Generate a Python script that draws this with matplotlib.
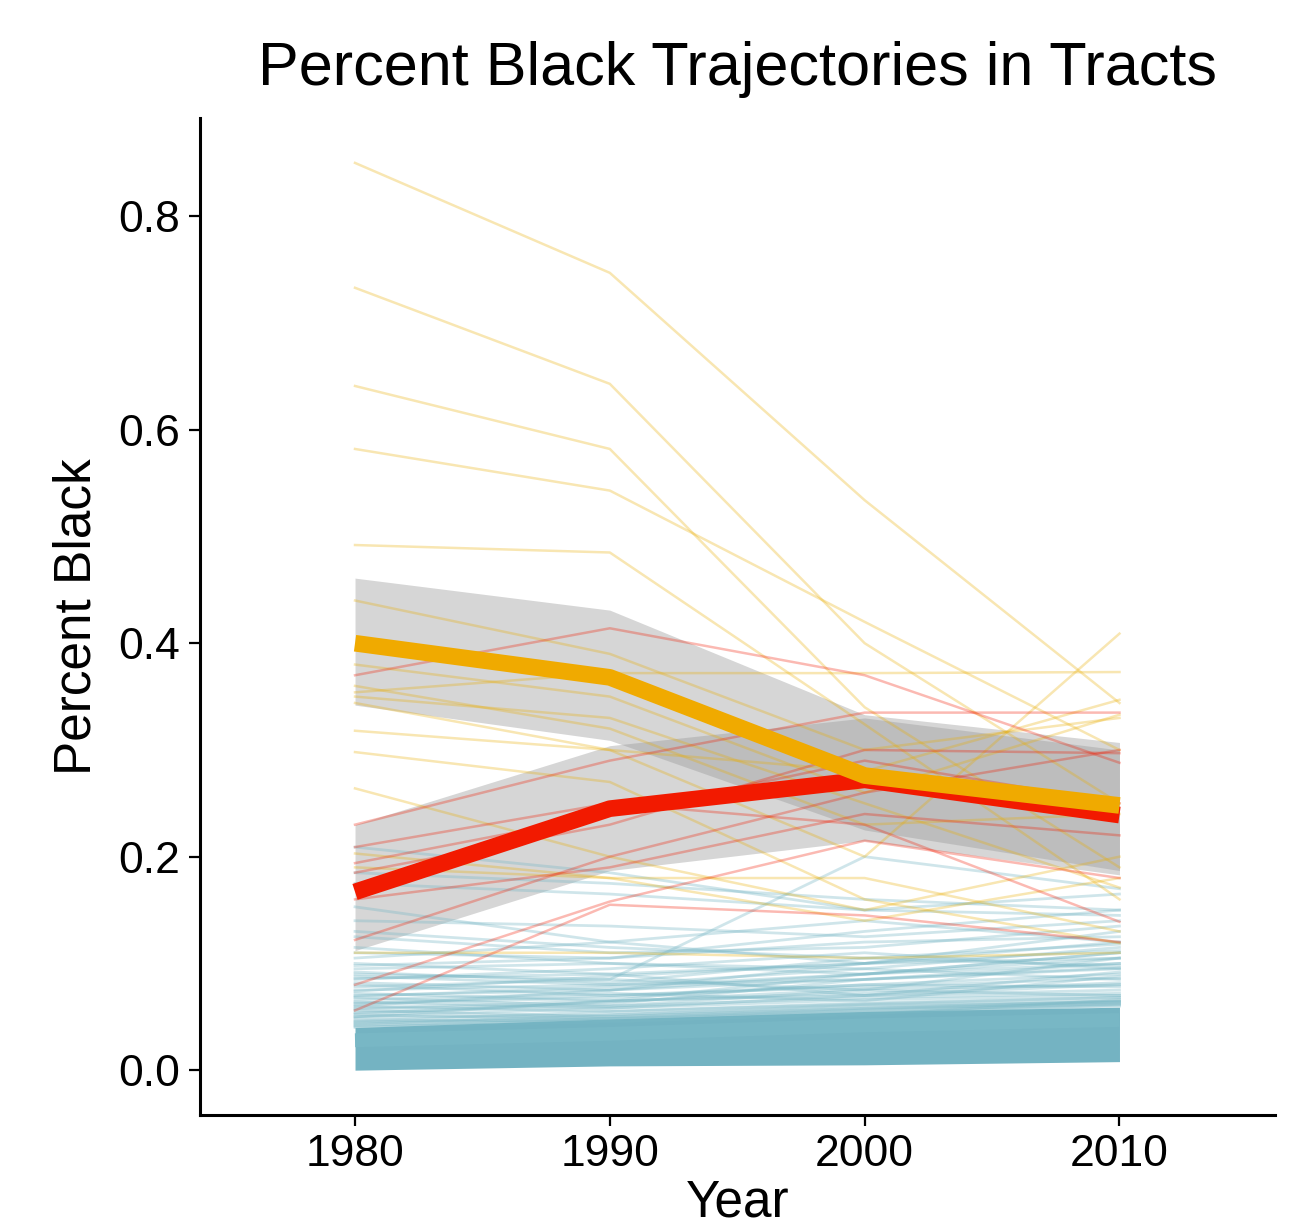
import numpy as np
import matplotlib
matplotlib.use('Agg')
from matplotlib import pyplot as plt

plt.rcParams['font.family'] = ['Liberation Sans', 'DejaVu Sans']

# data
years = [1980, 1990, 2000, 2010]

orange_lines = [
    [0.850, 0.747, 0.534, 0.344],
    [0.733, 0.643, 0.400, 0.250],
    [0.641, 0.582, 0.340, 0.190],
    [0.582, 0.543, 0.420, 0.300],
    [0.492, 0.485, 0.324, 0.160],
    [0.440, 0.390, 0.300, 0.330],
    [0.354, 0.372, 0.372, 0.373],
    [0.350, 0.330, 0.250, 0.171],
    [0.344, 0.300, 0.200, 0.409],
    [0.318, 0.300, 0.280, 0.347],
    [0.298, 0.270, 0.160, 0.119],
    [0.264, 0.200, 0.150, 0.200],
    [0.203, 0.180, 0.180, 0.130],
    [0.110, 0.110, 0.105, 0.110],
    [0.360, 0.320, 0.230, 0.240],
    [0.190, 0.180, 0.140, 0.180],
    [0.380, 0.350, 0.260, 0.333],
]

red_lines = [
    [0.370, 0.414, 0.370, 0.288],
    [0.230, 0.290, 0.335, 0.335],
    [0.122, 0.200, 0.260, 0.300],
    [0.056, 0.155, 0.145, 0.120],
    [0.080, 0.158, 0.215, 0.180],
    [0.194, 0.240, 0.290, 0.250],
    [0.209, 0.250, 0.230, 0.139],
    [0.185, 0.230, 0.300, 0.297],
    [0.160, 0.190, 0.240, 0.220],
]

teal_lines = [
    [0.209, 0.185, 0.150, 0.145],
    [0.185, 0.175, 0.160, 0.150],
    [0.175, 0.165, 0.150, 0.165],
    [0.153, 0.120, 0.100, 0.105],
    [0.140, 0.135, 0.125, 0.140],
    [0.125, 0.110, 0.115, 0.135],
    [0.110, 0.105, 0.120, 0.125],
    [0.100, 0.090, 0.100, 0.130],
    [0.095, 0.100, 0.095, 0.115],
    [0.090, 0.085, 0.200, 0.170],
    [0.088, 0.080, 0.085, 0.100],
    [0.085, 0.095, 0.110, 0.095],
    [0.082, 0.075, 0.090, 0.110],
    [0.080, 0.070, 0.080, 0.090],
    [0.078, 0.085, 0.075, 0.105],
    [0.075, 0.080, 0.095, 0.085],
    [0.072, 0.065, 0.070, 0.080],
    [0.070, 0.075, 0.085, 0.095],
    [0.068, 0.060, 0.075, 0.070],
    [0.066, 0.072, 0.065, 0.088],
    [0.064, 0.058, 0.070, 0.075],
    [0.062, 0.068, 0.080, 0.078],
    [0.060, 0.055, 0.062, 0.068],
    [0.058, 0.065, 0.072, 0.082],
    [0.056, 0.050, 0.058, 0.065],
    [0.054, 0.060, 0.068, 0.072],
    [0.052, 0.048, 0.055, 0.062],
    [0.050, 0.058, 0.066, 0.070],
    [0.049, 0.052, 0.060, 0.064],
    [0.047, 0.046, 0.052, 0.066],
    [0.046, 0.055, 0.063, 0.068],
    [0.045, 0.050, 0.058, 0.062],
    [0.044, 0.048, 0.054, 0.060],
    [0.043, 0.052, 0.061, 0.065],
    [0.042, 0.047, 0.056, 0.063],
    [0.041, 0.045, 0.053, 0.061],
    [0.040, 0.049, 0.057, 0.064],
    [0.105, 0.120, 0.140, 0.120],
    [0.115, 0.100, 0.090, 0.110],
    [0.130, 0.115, 0.105, 0.098],
    [0.060, 0.075, 0.100, 0.120],
    [0.050, 0.065, 0.090, 0.105],
    [0.098, 0.105, 0.130, 0.150],
    [0.092, 0.082, 0.105, 0.118],
    [0.086, 0.090, 0.070, 0.092],
    [0.074, 0.088, 0.100, 0.112],
    [0.069, 0.078, 0.090, 0.100],
    [0.063, 0.070, 0.078, 0.086],
    [0.057, 0.062, 0.085, 0.096],
    [0.053, 0.064, 0.076, 0.080],
]

# dense mass of low tracts
teal_band_lo = [0.000, 0.004, 0.005, 0.008]
teal_band_hi = [0.040, 0.048, 0.055, 0.059]
teal_mean = [0.028, 0.034, 0.042, 0.047]

red_mean = [0.167, 0.245, 0.272, 0.239]
red_lo = [0.112, 0.187, 0.215, 0.183]
red_hi = [0.230, 0.304, 0.330, 0.300]

orange_mean = [0.400, 0.368, 0.276, 0.248]
orange_lo = [0.342, 0.309, 0.225, 0.187]
orange_hi = [0.461, 0.431, 0.333, 0.307]

TEAL = '#78B7C5'
ORANGE = '#E9AD00'
RED = '#F21A00'

fig = plt.figure(figsize=(13.13, 12.3), dpi=100)
ax = fig.add_axes([0.152, 0.0935, 0.819, 0.8105])

for v in teal_lines:
    ax.plot(years, v, color=TEAL, lw=2.0, alpha=0.35)
for v in orange_lines:
    ax.plot(years, v, color=ORANGE, lw=1.8, alpha=0.3)
for v in red_lines:
    ax.plot(years, v, color=RED, lw=1.8, alpha=0.3)

ax.fill_between(years, teal_band_lo, teal_band_hi, color='#74b3c2', lw=0)
ax.plot(years, teal_mean, color=TEAL, lw=10, solid_capstyle='butt')

ax.fill_between(years, red_lo, red_hi, color='#999999', alpha=0.4, lw=0)
ax.plot(years, red_mean, color=RED, lw=12, solid_capstyle='butt')
ax.fill_between(years, orange_lo, orange_hi, color='#999999', alpha=0.4, lw=0)
ax.plot(years, orange_mean, color='#F0AA00', lw=12, solid_capstyle='butt')

ax.set_xlim(1973.9, 2016.1)
ax.set_ylim(-0.042, 0.892)
ax.set_xticks(years)
ax.set_yticks([0.0, 0.2, 0.4, 0.6, 0.8])
ax.set_yticklabels(['0.0', '0.2', '0.4', '0.6', '0.8'])

for s in ['top', 'right']:
    ax.spines[s].set_visible(False)
for s in ['left', 'bottom']:
    ax.spines[s].set_linewidth(2.2)
ax.tick_params(axis='both', length=8, width=1.6, labelsize=32, pad=6, colors='black')

ax.set_xlabel('Year', fontsize=37, labelpad=2)
ax.set_ylabel('Percent Black', fontsize=37, labelpad=12)
ax.set_title('Percent Black Trajectories in Tracts', fontsize=44, pad=24)

fig.savefig('out.png', dpi=100)
